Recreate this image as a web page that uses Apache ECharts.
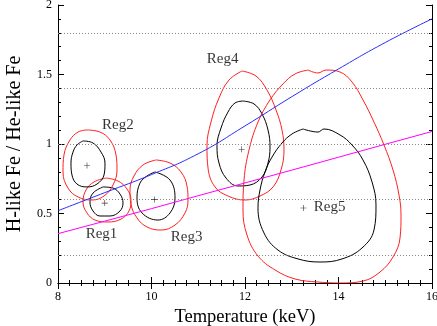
<!DOCTYPE html>
<html>
<head>
<meta charset="utf-8">
<script src="https://cdn.jsdelivr.net/npm/echarts@6/dist/echarts.min.js"></script>
<style>
  html, body { margin: 0; padding: 0; background: #fff; }
  #chart { width: 437px; height: 326px; }
</style>
</head>
<body>
<div id="chart"></div>
<script>
// model curves (temperature keV -> ratio)
var modelT = [8, 9, 10, 11, 12, 13, 14, 15, 16];
var blueRatio = [0.52, 0.65, 0.78, 0.93, 1.13, 1.34, 1.54, 1.73, 1.90];
var magentaRatio = [0.355, 0.445, 0.535, 0.628, 0.72, 0.812, 0.905, 0.998, 1.09];

// dotted reference levels
var dottedLevels = [0.2, 0.6, 1.0, 1.4, 1.8];

// region best fits and label spots
var regNames = ['Reg1', 'Reg2', 'Reg3', 'Reg4', 'Reg5'];
var centerT = [9.0, 8.62, 10.06, 11.93, 13.25];
var centerR = [0.575, 0.845, 0.60, 0.962, 0.54];
var labelT = [8.93, 9.28, 10.75, 11.52, 13.81];
var labelR = [0.35, 1.135, 0.33, 1.61, 0.543];

// confidence contours [keV, ratio]
var reg1Outer = [[9.027,0.755],[9.283,0.734],[9.476,0.676],[9.561,0.597],[9.519,0.518],[9.348,0.460],[9.070,0.439],[8.791,0.453],[8.620,0.504],[8.535,0.583],[8.599,0.669],[8.770,0.727]];
var reg1Inner = [[8.963,0.691],[9.176,0.683],[9.326,0.640],[9.390,0.576],[9.326,0.518],[9.112,0.482],[8.898,0.482],[8.749,0.518],[8.684,0.583],[8.749,0.647]];
var reg2Outer = [[8.620,1.101],[8.898,1.086],[9.112,1.029],[9.241,0.921],[9.262,0.813],[9.176,0.705],[8.984,0.626],[8.727,0.597],[8.428,0.619],[8.214,0.683],[8.107,0.799],[8.128,0.921],[8.257,1.029],[8.428,1.086]];
var reg2Inner = [[8.535,1.022],[8.749,1.007],[8.920,0.942],[9.005,0.863],[8.984,0.777],[8.834,0.712],[8.620,0.691],[8.406,0.712],[8.299,0.777],[8.278,0.863],[8.321,0.942],[8.406,0.993]];
var reg3Outer = [[10.096,0.885],[10.396,0.863],[10.631,0.799],[10.759,0.698],[10.781,0.597],[10.717,0.504],[10.503,0.417],[10.203,0.381],[9.904,0.403],[9.690,0.468],[9.561,0.568],[9.540,0.669],[9.626,0.770],[9.818,0.849]];
var reg3Inner = [[10.075,0.799],[10.396,0.741],[10.503,0.612],[10.396,0.504],[10.139,0.453],[9.797,0.504],[9.690,0.612],[9.754,0.719],[9.904,0.770]];
var reg4Outer = [[11.936,1.525],[12.235,1.489],[12.471,1.388],[12.663,1.245],[12.791,1.101],[12.834,0.957],[12.770,0.813],[12.599,0.691],[12.321,0.626],[12.0,0.597],[11.636,0.626],[11.358,0.691],[11.209,0.827],[11.187,0.986],[11.273,1.158],[11.444,1.331],[11.658,1.460]];
var reg4Inner = [[11.957,1.309],[12.193,1.288],[12.364,1.216],[12.492,1.101],[12.535,0.978],[12.492,0.863],[12.364,0.763],[12.107,0.705],[11.850,0.698],[11.594,0.755],[11.444,0.863],[11.401,0.986],[11.487,1.115],[11.636,1.230],[11.786,1.295]];
var reg5Outer = [[13.348,1.532],[13.561,1.511],[13.733,1.532],[14.032,1.518],[14.289,1.446],[14.524,1.317],[14.759,1.158],[14.973,0.993],[15.166,0.813],[15.294,0.633],[15.337,0.489],[15.316,0.324],[15.166,0.187],[14.888,0.079],[14.524,0.014],[14.032,0.0],[13.561,0.007],[13.070,0.029],[12.642,0.094],[12.278,0.194],[12.043,0.345],[11.957,0.525],[11.979,0.741],[12.086,0.957],[12.278,1.158],[12.535,1.317],[12.813,1.432],[13.070,1.504]];
var reg5Inner = [[13.241,1.108],[13.561,1.086],[13.690,1.108],[14.032,1.065],[14.289,0.993],[14.524,0.885],[14.717,0.727],[14.802,0.561],[14.759,0.381],[14.503,0.252],[14.075,0.173],[13.604,0.151],[13.134,0.173],[12.706,0.237],[12.406,0.360],[12.278,0.540],[12.321,0.669],[12.428,0.799],[12.578,0.906],[12.791,1.007],[13.005,1.072]];

var FONT = 'Liberation Serif';

function closeLoop(pts){
	return pts.concat([pts[0]]);
}
function contour(pts, color){
	return {
		type: 'line',
		data: closeLoop(pts),
		symbol: 'none',
		smooth: 0.4,
		lineStyle: {color: color, width: 1},
		z: 3
	};
}
function pairs(xs, ys){
	var out = [];
	for (var i = 0; i < xs.length; i++) out.push([xs[i], ys[i]]);
	return out;
}

var labelData = [];
for (var i = 0; i < regNames.length; i++) labelData.push([labelT[i], labelR[i], regNames[i]]);

var xAxisBase = {
	type: 'value', min: 8, max: 16, interval: 2,
	axisLine: {show: true, lineStyle: {color: '#000', width: 1}},
	axisTick: {show: true, inside: true, length: 6, lineStyle: {color: '#000'}},
	minorTick: {show: true, splitNumber: 8, length: 3, lineStyle: {color: '#000'}},
	splitLine: {show: false}
};
var yAxisBase = {
	type: 'value', min: 0, max: 2, interval: 0.5,
	axisLine: {show: true, lineStyle: {color: '#000', width: 1}},
	axisTick: {show: true, inside: true, length: 6, lineStyle: {color: '#000'}},
	minorTick: {show: true, splitNumber: 5, length: 3, lineStyle: {color: '#000'}},
	splitLine: {show: false}
};

var myChart = echarts.init(document.getElementById('chart'));
option = {
	animation: false,
	backgroundColor: '#fff',
	grid: {left: 58, right: 5, top: 5, bottom: 43, containLabel: false, outerBoundsMode: 'none'},
	xAxis: [
		echarts.util.merge({
			position: 'bottom',
			name: 'Temperature (keV)',
			nameLocation: 'middle',
			nameGap: 23,
			nameTextStyle: {fontFamily: FONT, fontSize: 18.5, color: '#000'},
			axisLabel: {fontFamily: FONT, fontSize: 12, color: '#000', margin: 8}
		}, xAxisBase, true),
		echarts.util.merge({position: 'top', axisLabel: {show: false}}, xAxisBase, true)
	],
	yAxis: [
		echarts.util.merge({
			position: 'left',
			name: 'H-like Fe / He-like Fe',
			nameLocation: 'middle',
			nameGap: 33,
			nameTextStyle: {fontFamily: FONT, fontSize: 20, color: '#000'},
			axisLabel: {fontFamily: FONT, fontSize: 12, color: '#000', margin: 6,
				formatter: function(v){ return String(v); }}
		}, yAxisBase, true),
		echarts.util.merge({position: 'right', axisLabel: {show: false}}, yAxisBase, true)
	],
	series: [
		{
			type: 'line',
			data: pairs(modelT, blueRatio),
			symbol: 'none',
			smooth: true,
			lineStyle: {color: '#2b2bff', width: 1},
			markLine: {
				silent: true,
				symbol: 'none',
				label: {show: false},
				lineStyle: {color: '#888', type: [1, 2], width: 1},
				data: dottedLevels.map(function(v){ return {yAxis: v}; })
			},
			z: 4
		},
		{
			type: 'line',
			data: pairs(modelT, magentaRatio),
			symbol: 'none',
			lineStyle: {color: '#ff00ff', width: 1},
			z: 4
		},
		contour(reg1Outer, '#ff2020'),
		contour(reg1Inner, '#000'),
		contour(reg2Outer, '#ff2020'),
		contour(reg2Inner, '#000'),
		contour(reg3Outer, '#ff2020'),
		contour(reg3Inner, '#000'),
		contour(reg4Outer, '#ff2020'),
		contour(reg4Inner, '#000'),
		contour(reg5Outer, '#ff2020'),
		contour(reg5Inner, '#000'),
		{
			type: 'scatter',
			data: pairs(centerT, centerR),
			symbol: 'path://M4.5,0H5.5V4.5H10V5.5H5.5V10H4.5V5.5H0V4.5H4.5Z',
			symbolSize: 6,
			itemStyle: {color: '#000'},
			z: 5
		},
		{
			type: 'scatter',
			data: labelData,
			symbolSize: 0,
			label: {
				show: true,
				position: 'inside',
				fontFamily: FONT,
				fontSize: 15,
				color: '#000',
				formatter: function(p){ return p.data[2]; }
			},
			z: 6
		}
	]
};
myChart.setOption(option);
</script>
</body>
</html>
